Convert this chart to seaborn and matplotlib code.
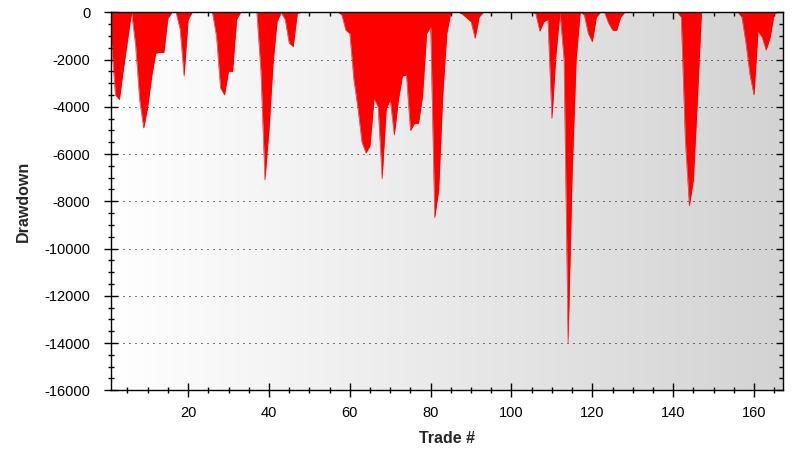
import numpy as np
import pandas as pd
import matplotlib
matplotlib.use("Agg")
import matplotlib.pyplot as plt
import seaborn as sns
from matplotlib.ticker import MultipleLocator
from matplotlib.colors import LinearSegmentedColormap

# ---- data ----
trades = list(range(1, 168))
drawdown = [
    -1200, -3500, -3700, -2400, -1200, 0, -1400, -3700, -4900, -4000,      # 1-10
    -2700, -1730, -1700, -1700, -250, 0, 0, -700, -2700, -300,             # 11-20
    0, 0, 0, 0, 0, 0, -1000, -3200, -3500, -2500,                          # 21-30
    -2500, -300, 0, 0, 0, 0, 0, -2500, -7100, -5000,                       # 31-40
    -2200, -400, 0, -300, -1300, -1450, -50, 0, 0, 0,                      # 41-50
    0, 0, 0, 0, 0, 0, 0, -100, -750, -900,                                 # 51-60
    -2850, -4050, -5500, -5950, -5650, -3650, -4000, -7050, -4100, -3700,  # 61-70
    -5200, -3750, -2700, -2650, -5000, -4700, -4700, -3550, -900, -600,    # 71-80
    -8700, -7500, -3500, -900, 0, 0, 0, -100, -250, -400,                  # 81-90
    -1100, -200, 0, 0, 0, 0, 0, 0, 0, 0,                                   # 91-100
    0, 0, 0, 0, 0, -50, -800, -400, -300, -4500,                           # 101-110
    -1800, 0, -2000, -14000, -6900, -2000, 0, -100, -900, -1250,           # 111-120
    -200, 0, 0, -450, -750, -770, -200, 0, 0, 0,                           # 121-130
    0, 0, 0, 0, 0, 0, 0, 0, 0, 0,                                          # 131-140
    0, -200, -5400, -8200, -7100, -3700, 0, 0, 0, 0,                       # 141-150
    0, 0, 0, 0, 0, 0, -200, -1300, -2650, -3500,                           # 151-160
    -800, -1050, -1600, -1050, -50, 0, 0,                                  # 161-167
]
x_label = "Trade #"
y_label = "Drawdown"

df = pd.DataFrame({"trade": trades, "drawdown": drawdown})

sns.set_theme(style="white")
plt.rcParams["font.family"] = ["Liberation Sans", "DejaVu Sans"]
plt.rcParams["axes.unicode_minus"] = False

fig = plt.figure(figsize=(8.12, 4.62), dpi=100)
fig.patch.set_facecolor("white")
ax = fig.add_axes([0.1371, 0.1552, 0.9639 - 0.1371, 0.9734 - 0.1552])

# gradient background
cmap = LinearSegmentedColormap.from_list("bg", ["#ffffff", "#d3d3d3"])
grad = np.linspace(0, 1, 256).reshape(1, -1)
ax.imshow(grad, extent=[0, 1, 0, 1], transform=ax.transAxes, cmap=cmap,
          aspect="auto", zorder=0)

# dotted horizontal grid
for yv in range(-14000, 0, 2000):
    ax.axhline(yv, color="black", lw=0.72, ls=(0, (1, 5)), zorder=1)

ax.fill_between(df["trade"], df["drawdown"], 0, color="#ff0000", lw=0, zorder=2)
sns.lineplot(data=df, x="trade", y="drawdown", ax=ax, color="#ff0000",
             lw=0.4, zorder=3)

ax.set_xlim(1, 167.1)
ax.set_ylim(-16000, 0)
ax.xaxis.set_major_locator(MultipleLocator(20))
ax.xaxis.set_minor_locator(MultipleLocator(5))
ax.yaxis.set_major_locator(MultipleLocator(2000))
ax.yaxis.set_minor_locator(MultipleLocator(500))
ax.set_xticks([20, 40, 60, 80, 100, 120, 140, 160])

for s in ax.spines.values():
    s.set_color("black")
    s.set_linewidth(1.0)
    s.set_zorder(5)

ax.tick_params(which="major", direction="inout", length=10, width=1,
               color="black", labelsize=10.5, labelcolor="black",
               bottom=True, left=True)
ax.tick_params(axis="y", which="major", pad=10)
ax.tick_params(axis="x", which="major", pad=6)
ax.tick_params(which="minor", direction="inout", length=5, width=1,
               color="black", bottom=True, left=True)

# top / right inward ticks
secx = ax.secondary_xaxis("top")
secx.xaxis.set_major_locator(MultipleLocator(20))
secx.xaxis.set_minor_locator(MultipleLocator(5))
secx.tick_params(which="major", direction="in", length=5, width=1, labeltop=False, color="black")
secx.tick_params(which="minor", direction="in", length=3, width=1, color="black")
secx.spines["top"].set_visible(False)
secy = ax.secondary_yaxis("right")
secy.yaxis.set_major_locator(MultipleLocator(2000))
secy.yaxis.set_minor_locator(MultipleLocator(500))
secy.tick_params(which="major", direction="in", length=5, width=1, labelright=False, color="black")
secy.tick_params(which="minor", direction="in", length=3, width=1, color="black")
secy.spines["right"].set_visible(False)

ax.set_xlabel(x_label, fontsize=11.5, fontweight="bold", labelpad=8)
ax.set_ylabel(y_label, fontsize=11.5, fontweight="bold", labelpad=10)

fig.savefig("out.png", dpi=100, facecolor="white")
